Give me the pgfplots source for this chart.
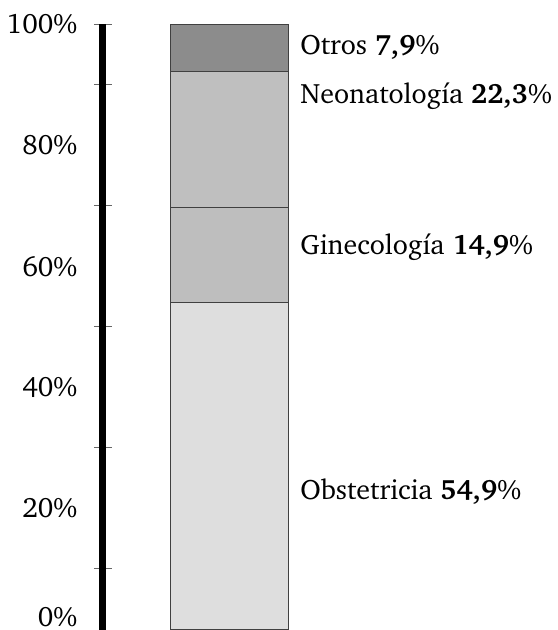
\documentclass[border=0pt]{standalone}
\usepackage[T1]{fontenc}
\usepackage{charter}
\usepackage{pgfplots}
\pgfplotsset{compat=1.18}
\definecolor{cObs}{HTML}{DEDEDE}
\definecolor{cGin}{HTML}{BEBEBE}
\definecolor{cNeo}{HTML}{BFBFBF}
\definecolor{cOtr}{HTML}{8C8C8C}
\definecolor{edge}{HTML}{404040}
\begin{document}
\fontsize{14}{17}\selectfont
\begin{tikzpicture}
\begin{axis}[
  scale only axis,
  width=126.5pt, height=302.5pt,
  xmin=0, xmax=2, ymin=0, ymax=100,
  axis x line=none,
  axis y line*=left,
  y axis line style={line width=3.5pt, -},
  ybar stacked, bar width=58.5pt,
  ytick={20,40,60,80,100},
  yticklabels={20\%,40\%,60\%,80\%,100\%},
  extra y ticks={0},
  extra y tick labels={0\%},
  extra y tick style={yticklabel style={yshift=6pt}},
  major tick length=0pt,
  minor ytick={10,30,50,70,90,100},
  minor tick length=9pt,
  tick align=center,
  minor tick style={black!60, line width=0.5pt},
  yticklabel style={font=\fontsize{14}{17}\selectfont, xshift=-8pt},
  /pgf/number format/assume math mode=true,
  clip=false,
]
\addplot[fill=cObs, draw=edge, line width=0.5pt] coordinates {(1,54.0)};
\addplot[fill=cGin, draw=edge, line width=0.5pt] coordinates {(1,15.7)};
\addplot[fill=cNeo, draw=edge, line width=0.5pt] coordinates {(1,22.5)};
\addplot[fill=cOtr, draw=edge, line width=0.5pt] coordinates {(1,7.8)};
\node[anchor=west, inner sep=0pt] at (axis cs:1.557,96.2) {Otros \textbf{7,9}\%};
\node[anchor=west, inner sep=0pt] at (axis cs:1.557,88.1) {Neonatolog\'{\i}a \textbf{22,3}\%};
\node[anchor=west, inner sep=0pt] at (axis cs:1.557,63.2) {Ginecolog\'{\i}a \textbf{14,9}\%};
\node[anchor=west, inner sep=0pt] at (axis cs:1.557,22.8) {Obstetricia \textbf{54,9}\%};
\coordinate (O) at (axis cs:0,0);
\end{axis}
\pgfresetboundingbox
\useasboundingbox ([xshift=-51.5pt,yshift=-0.25pt]O) rectangle ([xshift=227pt,yshift=314.75pt]O);
\end{tikzpicture}
\end{document}
